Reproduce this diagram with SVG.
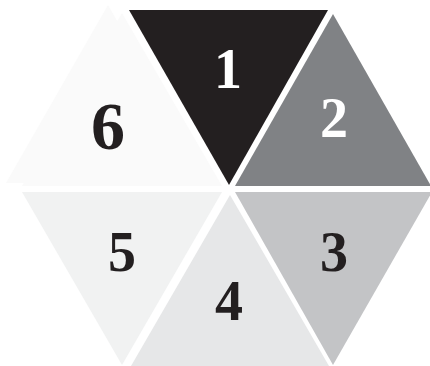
<svg xmlns="http://www.w3.org/2000/svg" width="430" height="366" viewBox="0 0 430 366">
<style>
.num{font-family:"Liberation Serif","Times New Roman",serif;font-weight:bold;text-anchor:middle;font-size:56px}
.dark{fill:#231f20}
.light{fill:#ffffff}
</style>
<rect width="430" height="366" fill="#ffffff"/>
<g id="t6">
<polygon points="108,5 6,183 210,183" fill="#fafafa"/>
<polygon points="122,13 22,186 222,186" fill="#fafafa"/>
<text class="num dark" x="108" y="149" style="font-size:68px">6</text>
</g>
<g id="t1">
<polygon points="129,10 328,10 229,185" fill="#231f20"/>
<text class="num light" x="228" y="88">1</text>
</g>
<g id="t2">
<polygon points="333,14 235,186 431,186" fill="#808285"/>
<text class="num light" x="334" y="137">2</text>
</g>
<g id="t5">
<polygon points="22,192 222,192 122,365" fill="#f1f2f2"/>
<text class="num dark" x="122" y="271">5</text>
</g>
<g id="t4">
<polygon points="230,195 131,366 329,366" fill="#e6e7e8"/>
<text class="num dark" x="229" y="320">4</text>
</g>
<g id="t3">
<polygon points="235,192 432,192 333,365" fill="#c3c4c6"/>
<text class="num dark" x="334" y="271">3</text>
</g>
</svg>
